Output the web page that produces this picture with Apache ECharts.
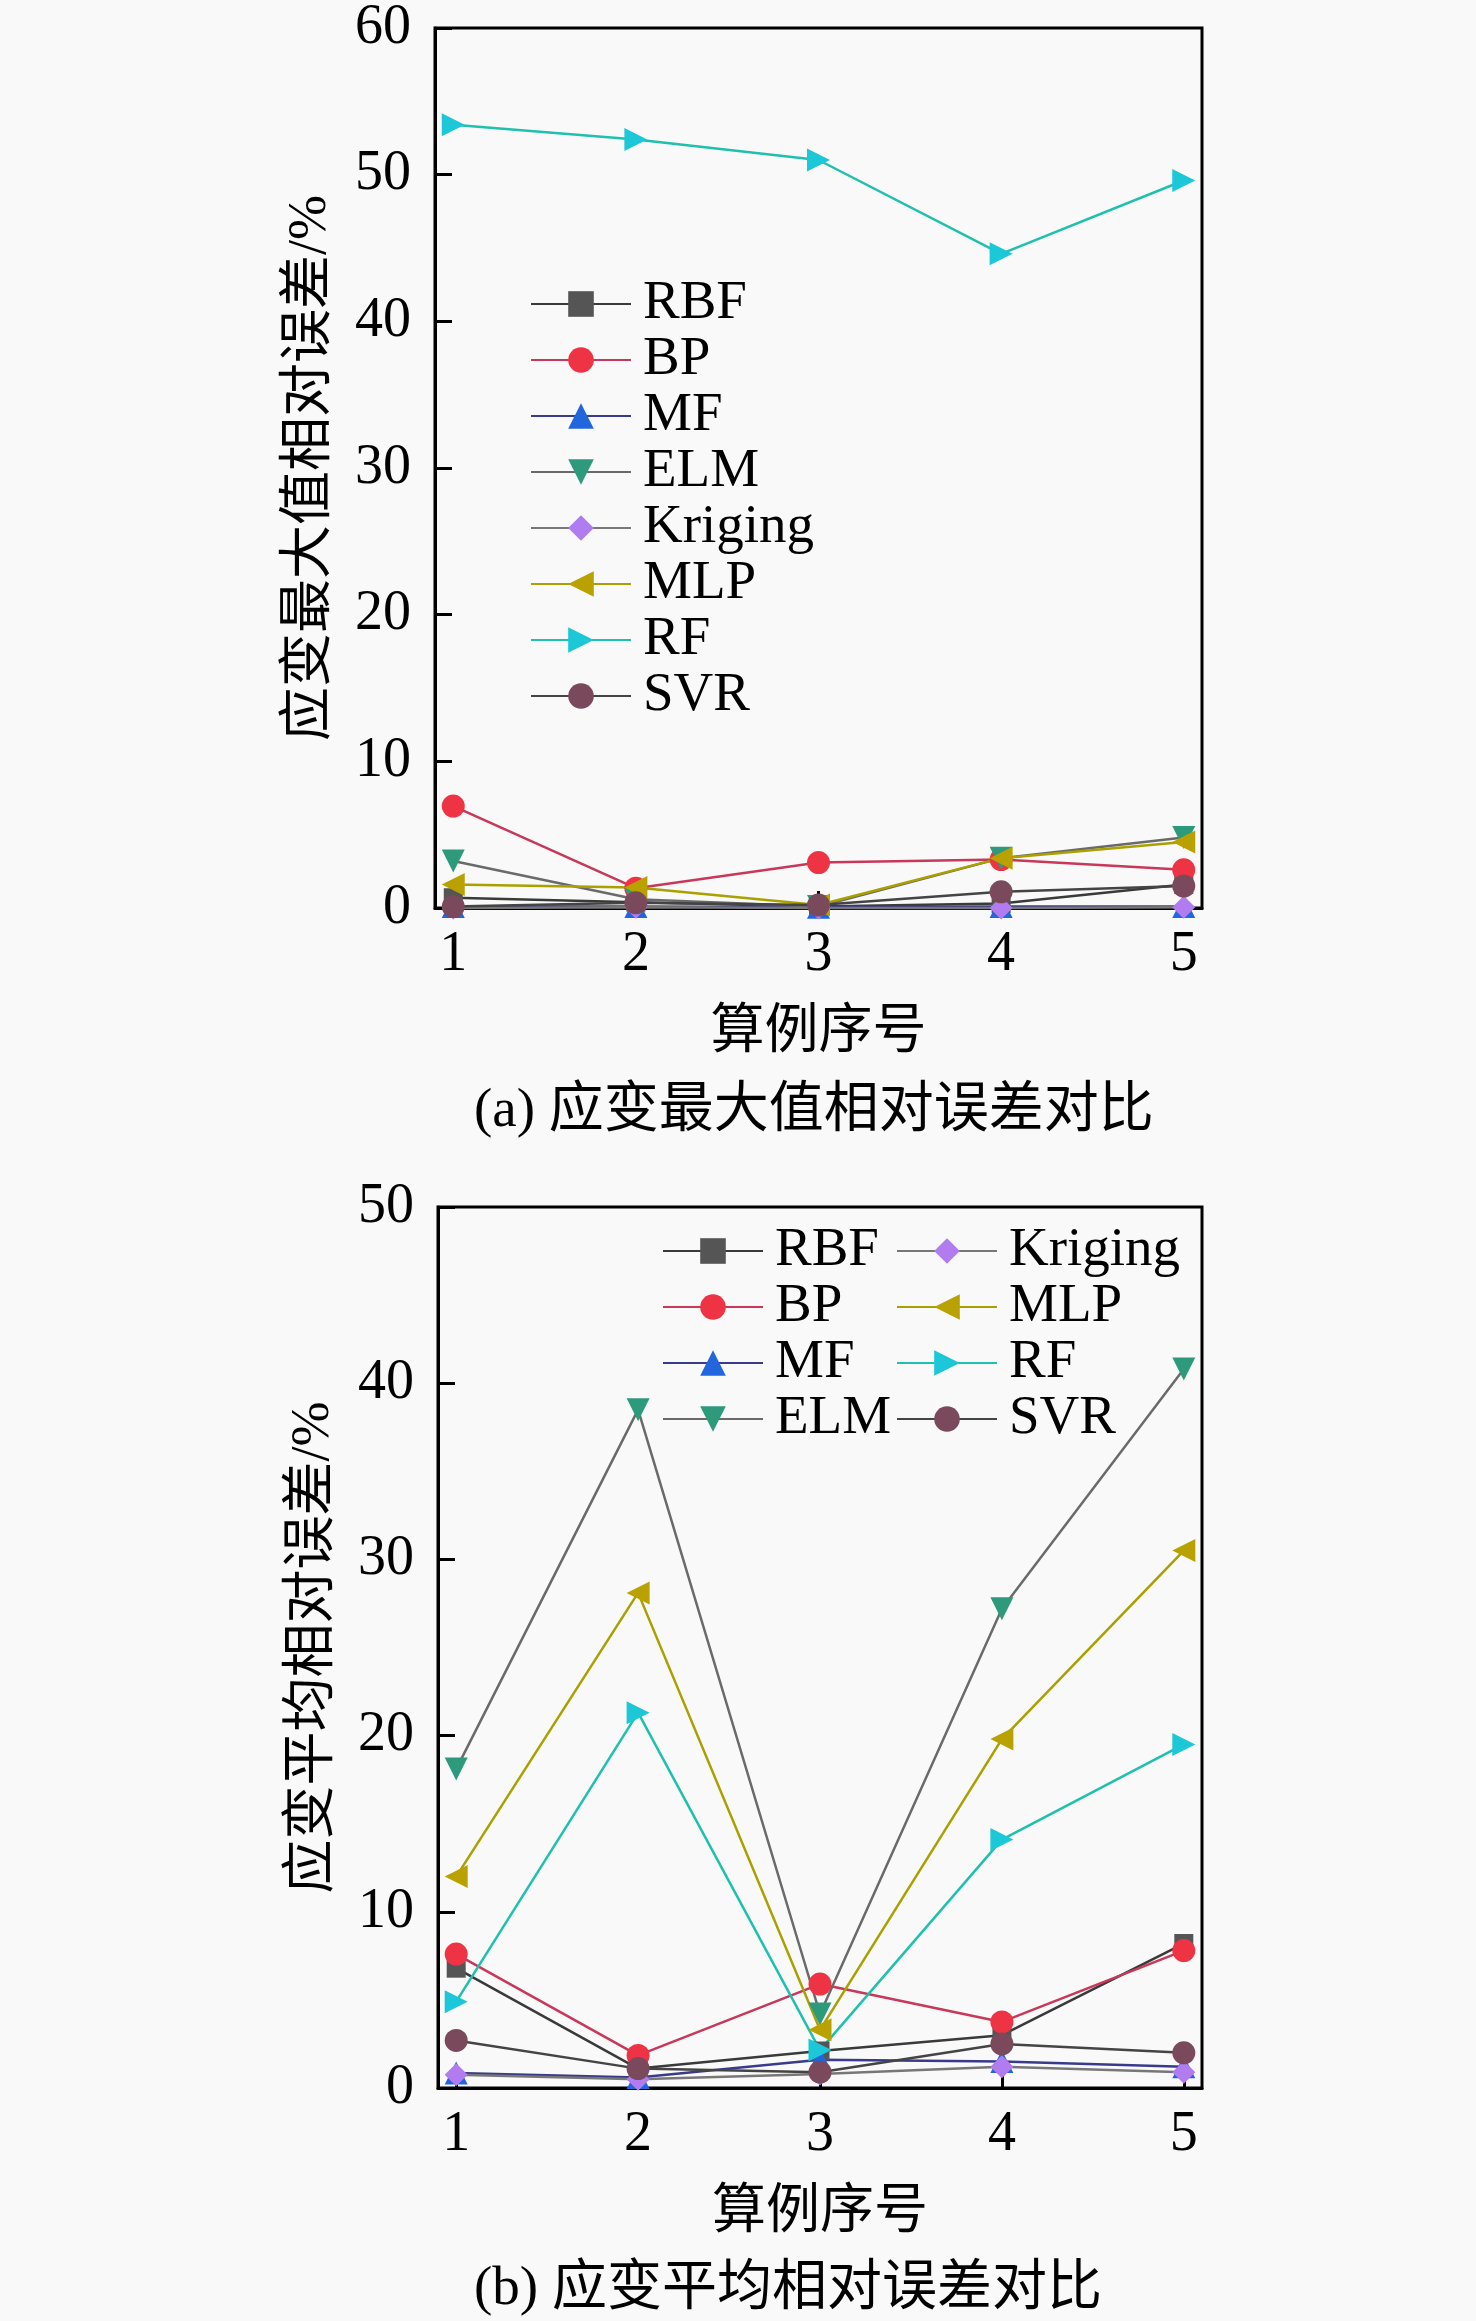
<!DOCTYPE html>
<html>
<head>
<meta charset="utf-8">
<script src="https://cdn.jsdelivr.net/npm/echarts@6/dist/echarts.min.js"></script>
<style>
  html, body { margin: 0; padding: 0; background: #f9f9f9; }
  #main { width: 1476px; height: 2321px; }
</style>
</head>
<body>
<div id="main"></div>
<script>
const cases = [1, 2, 3, 4, 5];
const models = ['RBF', 'BP', 'MF', 'ELM', 'Kriging', 'MLP', 'RF', 'SVR'];

// (a) max strain relative error, %
const maxRBF = [0.7, 0.4, 0.1, 0.3, 1.6];
const maxBP = [6.95, 1.35, 3.1, 3.3, 2.6];
const maxMF = [0.1, 0.1, 0.05, 0.1, 0.1];
const maxELM = [3.2, 0.6, 0.1, 3.4, 4.8];
const maxKriging = [0.0, 0.05, 0.0, 0.0, 0.05];
const maxMLP = [1.6, 1.4, 0.2, 3.4, 4.5];
const maxRF = [53.4, 52.4, 51.0, 44.6, 49.6];
const maxSVR = [0.1, 0.35, 0.2, 1.1, 1.5];

// (b) mean strain relative error, %
const meanRBF = [6.8, 1.1, 2.1, 3.0, 8.2];
const meanBP = [7.6, 1.85, 5.9, 3.75, 7.8];
const meanMF = [0.85, 0.6, 1.6, 1.5, 1.2];
const meanELM = [18.1, 38.5, 4.2, 27.2, 40.8];
const meanKriging = [0.75, 0.5, 0.8, 1.2, 0.9];
const meanMLP = [12.0, 28.1, 3.3, 19.8, 30.5];
const meanRF = [4.9, 21.3, 2.15, 14.1, 19.5];
const meanSVR = [2.7, 1.1, 0.9, 2.5, 2.0];

const yTicksA = [0, 10, 20, 30, 40, 50, 60];
const yTicksB = [0, 10, 20, 30, 40, 50];

const FONT = '"Liberation Serif", "Noto Sans CJK SC", serif';

// marker look per model
const looks = {
  RBF:     { symbol: 'rect',     rotate: 0,   mark: '#555555', line: '#3a3a3a' },
  BP:      { symbol: 'circle',   rotate: 0,   mark: '#ee3344', line: '#c8385a' },
  MF:      { symbol: 'triangle', rotate: 0,   mark: '#2266dd', line: '#3a3a8c' },
  ELM:     { symbol: 'triangle', rotate: 180, mark: '#2e9a7c', line: '#6a6a6a' },
  Kriging: { symbol: 'diamond',  rotate: 0,   mark: '#b07cf0', line: '#777777' },
  MLP:     { symbol: 'triangle', rotate: 90,  mark: '#b9a200', line: '#aaa000' },
  RF:      { symbol: 'triangle', rotate: -90, mark: '#1cc8d8', line: '#1fc0ae' },
  SVR:     { symbol: 'circle',   rotate: 0,   mark: '#7a4a5c', line: '#444444' }
};

const dataA = { RBF: maxRBF, BP: maxBP, MF: maxMF, ELM: maxELM, Kriging: maxKriging, MLP: maxMLP, RF: maxRF, SVR: maxSVR };
const dataB = { RBF: meanRBF, BP: meanBP, MF: meanMF, ELM: meanELM, Kriging: meanKriging, MLP: meanMLP, RF: meanRF, SVR: meanSVR };

function makeSeries(data, idx) {
  return models.map(name => {
    const lk = looks[name];
    return {
      name,
      type: 'line',
      xAxisIndex: idx,
      yAxisIndex: idx,
      data: cases.map((c, i) => [c, data[name][i]]),
      symbol: lk.symbol,
      symbolRotate: lk.rotate,
      symbolSize: name === 'RBF' ? 19 : 23,
      itemStyle: { color: lk.mark },
      lineStyle: { color: lk.line, width: 2.5 },
      clip: false,
      animation: false
    };
  });
}

function xAxis(idx) {
  return {
    type: 'value',
    gridIndex: idx,
    min: 0.9,
    max: 5.1,
    name: '算例序号',
    nameLocation: 'middle',
    nameGap: 99,
    nameTextStyle: { fontFamily: FONT, fontSize: 54, color: '#000' },
    axisLine: { show: true, lineStyle: { color: '#000', width: 3 } },
    axisTick: { show: true, inside: true, length: 17, lineStyle: { color: '#000', width: 3 }, customValues: cases },
    axisLabel: { fontFamily: FONT, fontSize: 56, color: '#000', margin: 19, customValues: cases },
    splitLine: { show: false }
  };
}

function yAxis(idx, ticks, label) {
  return {
    type: 'value',
    gridIndex: idx,
    min: ticks[0],
    max: ticks[ticks.length - 1],
    interval: 10,
    name: label,
    nameLocation: 'middle',
    nameGap: 97,
    nameTextStyle: { fontFamily: FONT, fontSize: 54, color: '#000' },
    axisLine: { show: true, lineStyle: { color: '#000', width: 3 } },
    axisTick: { show: true, inside: true, length: 17, lineStyle: { color: '#000', width: 3 } },
    axisLabel: { fontFamily: FONT, fontSize: 56, color: '#000', margin: 24 },
    splitLine: { show: false }
  };
}

const legendText = { fontFamily: FONT, fontSize: 55, color: '#000', lineHeight: 56, padding: [0, 0, 0, 7] };

function legend(names, left, top, width) {
  return {
    data: names,
    orient: 'vertical',
    left, top,
    padding: 0,
    itemWidth: width, itemHeight: 32, itemGap: 0,
    textStyle: legendText,
    selectedMode: false
  };
}

const chart = echarts.init(document.getElementById('main'), null, { renderer: 'canvas' });

chart.setOption({
  backgroundColor: '#f9f9f9',
  animation: false,
  grid: [
    { left: 435, top: 25, width: 767, height: 883, show: true, borderColor: '#000', borderWidth: 3, backgroundColor: 'transparent' },
    { left: 438, top: 1207, width: 764, height: 881, show: true, borderColor: '#000', borderWidth: 3, backgroundColor: 'transparent' }
  ],
  xAxis: [xAxis(0), xAxis(1)],
  yAxis: [
    yAxis(0, yTicksA, '应变最大值相对误差/%'),
    yAxis(1, yTicksB, '应变平均相对误差/%')
  ],
  legend: [
    legend(models, 530, 276, 100),
    legend(models.slice(0, 4), 662, 1223, 100),
    legend(models.slice(4), 896, 1223, 100)
  ],
  graphic: [
    { type: 'text', x: 474, y: 1112, style: { text: '(a) 应变最大值相对误差对比', font: '55px ' + FONT, fill: '#000', align: 'left', verticalAlign: 'middle' } },
    { type: 'text', x: 474, y: 2290, style: { text: '(b) 应变平均相对误差对比', font: '55px ' + FONT, fill: '#000', align: 'left', verticalAlign: 'middle' } }
  ],
  series: makeSeries(dataA, 0).concat(makeSeries(dataB, 1))
});
</script>
</body>
</html>
